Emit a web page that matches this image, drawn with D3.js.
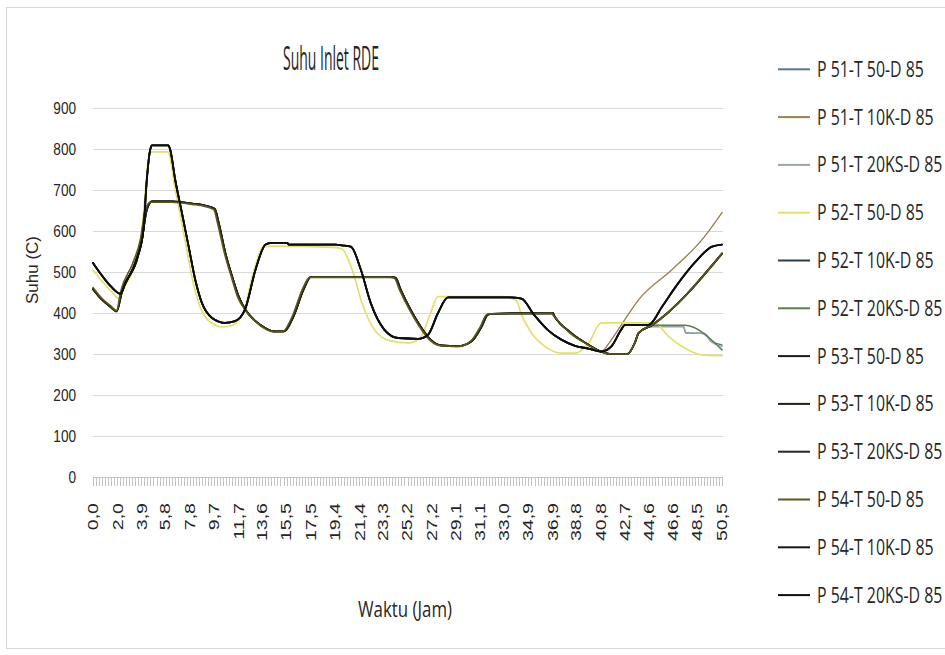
<!DOCTYPE html>
<meta charset="utf-8"/>
<head>
<script src="https://cdnjs.cloudflare.com/ajax/libs/d3/7.8.5/d3.min.js"></script>
<style>
body { margin: 0; background: #fff; }
svg { display: block; background: #fff; }
.grid line { stroke: #d9d9d9; stroke-width: 1.2px; shape-rendering: crispEdges; }
.band line, .band path { stroke: #c4c4c4; shape-rendering: crispEdges; }
.serie { fill: none; stroke-linejoin: round; stroke-linecap: round; }
text { fill: #262626; }
</style>
</head>
<body>
<div id="chart"></div>
<script>

// ---- data ----
var chartTitle = "Suhu Inlet RDE";
var yTicks = [0, 100, 200, 300, 400, 500, 600, 700, 800, 900];
var xTickLabels = ["0,0","2,0","3,9","5,8","7,8","9,7","11,7","13,6","15,5","17,5","19,4","21,4","23,3",
                   "25,2","27,2","29,1","31,1","33,0","34,9","36,9","38,8","40,8","42,7","44,6","46,6","48,5","50,5"];

var seriesNames = ["P 51-T 50-D 85","P 51-T 10K-D 85","P 51-T 20KS-D 85",
                   "P 52-T 50-D 85","P 52-T 10K-D 85","P 52-T 20KS-D 85",
                   "P 53-T 50-D 85","P 53-T 10K-D 85","P 53-T 20KS-D 85",
                   "P 54-T 50-D 85","P 54-T 10K-D 85","P 54-T 20KS-D 85"];
var seriesColors = ["#56798a","#9c8150","#9aa6a6",
                    "#e4df6c","#2a3d49","#5f7c4f",
                    "#1c1c1c","#23220f","#262626",
                    "#5d5916","#161616","#0e0e0e"];

// [jam, suhu] — group with the 800 peak
var groupA = [[0,522],[0.7,492],[1.4,466],[2.2,447],[2.6,474],[3.6,538],[4.05,603],[4.32,725],[4.59,798],
  [4.75,809],[6.05,809],[6.2,798],[6.6,725],[7.14,644],[7.68,562],[8.21,481],[8.75,424],[9.56,388],
  [10.6,376],[11.4,380],[12.2,408],[13.05,506],[13.85,567],[14.3,571],[15.6,571],[15.7,567],[19.5,567],
  [20.0,565],[20.7,562],[21.5,506],[22.3,424],[23.4,359],[24.5,339],[26.1,337],[26.9,347],[27.7,400],
  [28.5,438],[33.45,438],[34.4,435],[35.4,396],[36.5,359],[37.6,335],[38.7,320],[39.8,313],[40.8,306]];

// group with the 670 plateau
var groupB = [[0,458],[0.7,433],[1.4,415],[1.9,404],[2.3,449],[3.38,522],[3.92,579],[4.32,652],[4.73,672],
  [6.34,672],[7.95,667],[9.0,662],[9.77,654],[10.1,619],[10.63,546],[11.17,489],[11.7,440],[12.24,408],
  [13.05,380],[13.9,362],[14.5,355],[15.3,355],[16.1,392],[16.9,457],[17.5,488],[23.9,488],[24.3,486],
  [24.7,457],[25.5,408],[26.3,367],[27.1,335],[27.95,321],[29.3,319],[30.4,331],[31.2,367],[31.7,396],
  [32.0,398],[36.9,400],[37.05,392],[38.4,351],[39.76,323],[40.8,306],[41.6,300],[42.9,300]];

var yellowA = [[0,505],[0.8,475],[1.5,452],[2.1,435],[2.5,462],[3.5,530],[3.95,600],[4.25,715],[4.5,785],
  [4.7,793],[6.0,793],[6.15,785],[6.5,720],[7.0,640],[7.5,560],[8.0,480],[8.6,415],[9.4,378],[10.4,366],
  [11.2,370],[12.1,405],[12.9,500],[13.7,562],[14.3,563],[19.3,560],[20.0,556],[20.8,506],[21.6,424],
  [22.7,355],[23.9,332],[25.3,327],[26.3,340],[27.1,400],[27.7,440],[33.0,440],[34.0,430],[34.4,396],
  [35.2,351],[36.3,318],[37.6,302],[38.7,302],[39.8,327],[40.8,376],[45.1,376],[46.2,343],[47.8,310],
  [48.9,298],[50.5,296]];

var oliveB = [[0,462],[0.7,436],[1.4,418],[1.9,406],[2.2,450],[3.2,522],[3.8,579],[4.2,652],[4.6,670],
  [6.34,670],[7.95,665],[9.0,660],[9.7,652],[10.0,619],[10.55,546],[11.1,489],[11.6,440],[12.2,408],
  [13.0,380],[13.9,360],[14.5,354],[15.2,354],[16.0,392],[16.8,457],[17.4,487],[23.8,487],[24.2,485],
  [24.6,457],[25.4,408],[26.2,367],[27.0,335],[27.9,320],[29.2,318],[30.3,331],[31.1,367],[31.6,396],
  [31.9,398],[36.8,399],[37.0,392],[38.3,351],[39.7,323],[40.8,305],[41.6,300],[42.9,300]];

var tailDark  = [[41.6,318],[42.4,359],[42.7,371],[44.6,371],[45.7,416],[46.8,465],[48.4,526],[49.7,562],[50.5,567]];
var tailBrown = [[41.6,334],[42.7,384],[43.8,432],[46.5,506],[48.9,579],[50.5,645]];
var tailGreen = [[41.6,318],[42.4,359],[42.7,370],[47.5,370],[50.5,310]];
var tailRise  = [[43.5,327],[43.8,351],[44.9,371],[50.5,545]];
var tailBlue  = [[43.5,327],[43.8,351],[44.9,367],[47.4,367],[47.6,351],[49.0,351],[49.7,331],[50.5,322]];
var tailGray  = [[43.5,327],[43.8,351],[44.9,367],[47.4,367],[47.6,353],[49.0,349],[49.7,328],[50.5,318]];

var seriesPoints = [
  groupB.concat(tailBlue),  groupA.concat(tailBrown), groupB.concat(tailGray),
  yellowA,                  groupA.concat(tailDark),  groupA.concat(tailGreen),
  groupB.concat(tailRise),  groupB.concat(tailRise),  groupB.concat(tailRise),
  oliveB.concat(tailRise),  groupA.concat(tailDark),  groupA.concat(tailDark)
];
var seriesWidth = [1.4, 1.4, 1.3, 1.7, 1.8, 1.5, 1.8, 1.8, 1.8, 1.6, 1.8, 1.8];

// ---- layout ----
var W = 945, H = 655;
var plot = { left: 93, right: 722, top: 108, bottom: 477 };

var svg = d3.select("#chart").append("svg")
    .attr("width", W)
    .attr("height", H);

svg.append("rect")
    .attr("x", 6.5).attr("y", 7.5)
    .attr("width", W).attr("height", 641)
    .attr("fill", "none")
    .attr("stroke", "#d9d9d9");

var x = d3.scaleLinear().domain([0, 50.5]).range([plot.left, plot.right]);
var y = d3.scaleLinear().domain([0, 900]).range([plot.bottom, plot.top]);

// gridlines
svg.append("g").attr("class", "grid")
  .selectAll("line")
  .data(yTicks.filter(function(d) { return d > 0; }))
  .enter().append("line")
    .attr("x1", plot.left).attr("x2", plot.right + 1)
    .attr("y1", function(d) { return Math.round(y(d)) + 0.5; })
    .attr("y2", function(d) { return Math.round(y(d)) + 0.5; });

// dense category ticks along the bottom
var catTicks = d3.range(0, 209).map(function(k) { return k * 50.5 / 208; });
var band = svg.append("g").attr("class", "band")
    .attr("transform", "translate(0," + plot.bottom + ")")
    .call(d3.axisBottom(x).tickValues(catTicks).tickSize(9).tickSizeOuter(0).tickFormat(""));

// y axis labels
var yAxis = svg.append("g")
    .attr("transform", "translate(" + plot.left + ",0)")
    .call(d3.axisLeft(y).tickValues(yTicks).tickSize(0).tickPadding(0));
yAxis.select(".domain").remove();
yAxis.selectAll("text")
    .attr("x", 0)
    .attr("transform", "translate(-17,0) scale(0.85,1)")
    .style("font-family", "'Liberation Sans', Arial, sans-serif")
    .style("font-size", "16px")
    .style("fill", "#262626");

// x labels, rotated
svg.append("g").selectAll("text")
  .data(xTickLabels)
  .enter().append("text")
    .attr("transform", function(d) {
      return "translate(" + x(+d.replace(",", ".")) + ",503) rotate(-90) scale(1.4,1)";
    })
    .attr("text-anchor", "end")
    .attr("dy", "0.36em")
    .style("font-family", "'Liberation Sans', Arial, sans-serif")
    .style("font-size", "14px")
    .text(function(d) { return d; });

// lines
var line = d3.line()
    .x(function(d) { return x(d[0]); })
    .y(function(d) { return y(d[1]); })
    .curve(d3.curveMonotoneX);

svg.append("g").selectAll("path")
  .data(seriesPoints)
  .enter().append("path")
    .attr("class", "serie")
    .attr("d", line)
    .attr("stroke", function(d, i) { return seriesColors[i]; })
    .attr("stroke-width", function(d, i) { return seriesWidth[i]; });

// squeeze a text horizontally so it spans the wanted width
function squeeze(sel, cx, cy, target, anchor) {
  var w = sel.node().getComputedTextLength();
  sel.attr("text-anchor", anchor || "middle")
     .attr("transform", "translate(" + cx + "," + cy + ") scale(" + (target / w) + ",1)");
  return target / w;
}

// title
var title = svg.append("text")
    .style("font-family", "'Open Sans', sans-serif")
    .style("font-size", "33px")
    .text(chartTitle);
squeeze(title, 331, 70, 96);

// axis titles
var xt = svg.append("text")
    .style("font-family", "'Open Sans', sans-serif")
    .style("font-size", "21px")
    .text("Waktu (Jam)");
squeeze(xt, 405, 617, 94);

svg.append("text")
    .attr("transform", "translate(38,270) rotate(-90)")
    .attr("text-anchor", "middle")
    .style("font-family", "'Liberation Sans', Arial, sans-serif")
    .style("font-size", "17px")
    .text("Suhu (C)");

// legend
var legend = svg.append("g");
var lg = legend.selectAll("g")
  .data(seriesNames)
  .enter().append("g")
    .attr("transform", function(d, i) { return "translate(0," + (69.3 + i * 47.8) + ")"; });

lg.append("line")
    .attr("x1", 778).attr("x2", 810)
    .attr("stroke", function(d, i) { return seriesColors[i]; })
    .attr("stroke-width", 2);

var lt = lg.append("text")
    .style("font-family", "'Open Sans', sans-serif")
    .style("font-size", "21px")
    .attr("dy", "0.36em")
    .text(function(d) { return d; });

var sx = 107 / lt.node().getComputedTextLength();
lt.attr("transform", "translate(817,0) scale(" + sx + ",1)");

</script>
</body>
